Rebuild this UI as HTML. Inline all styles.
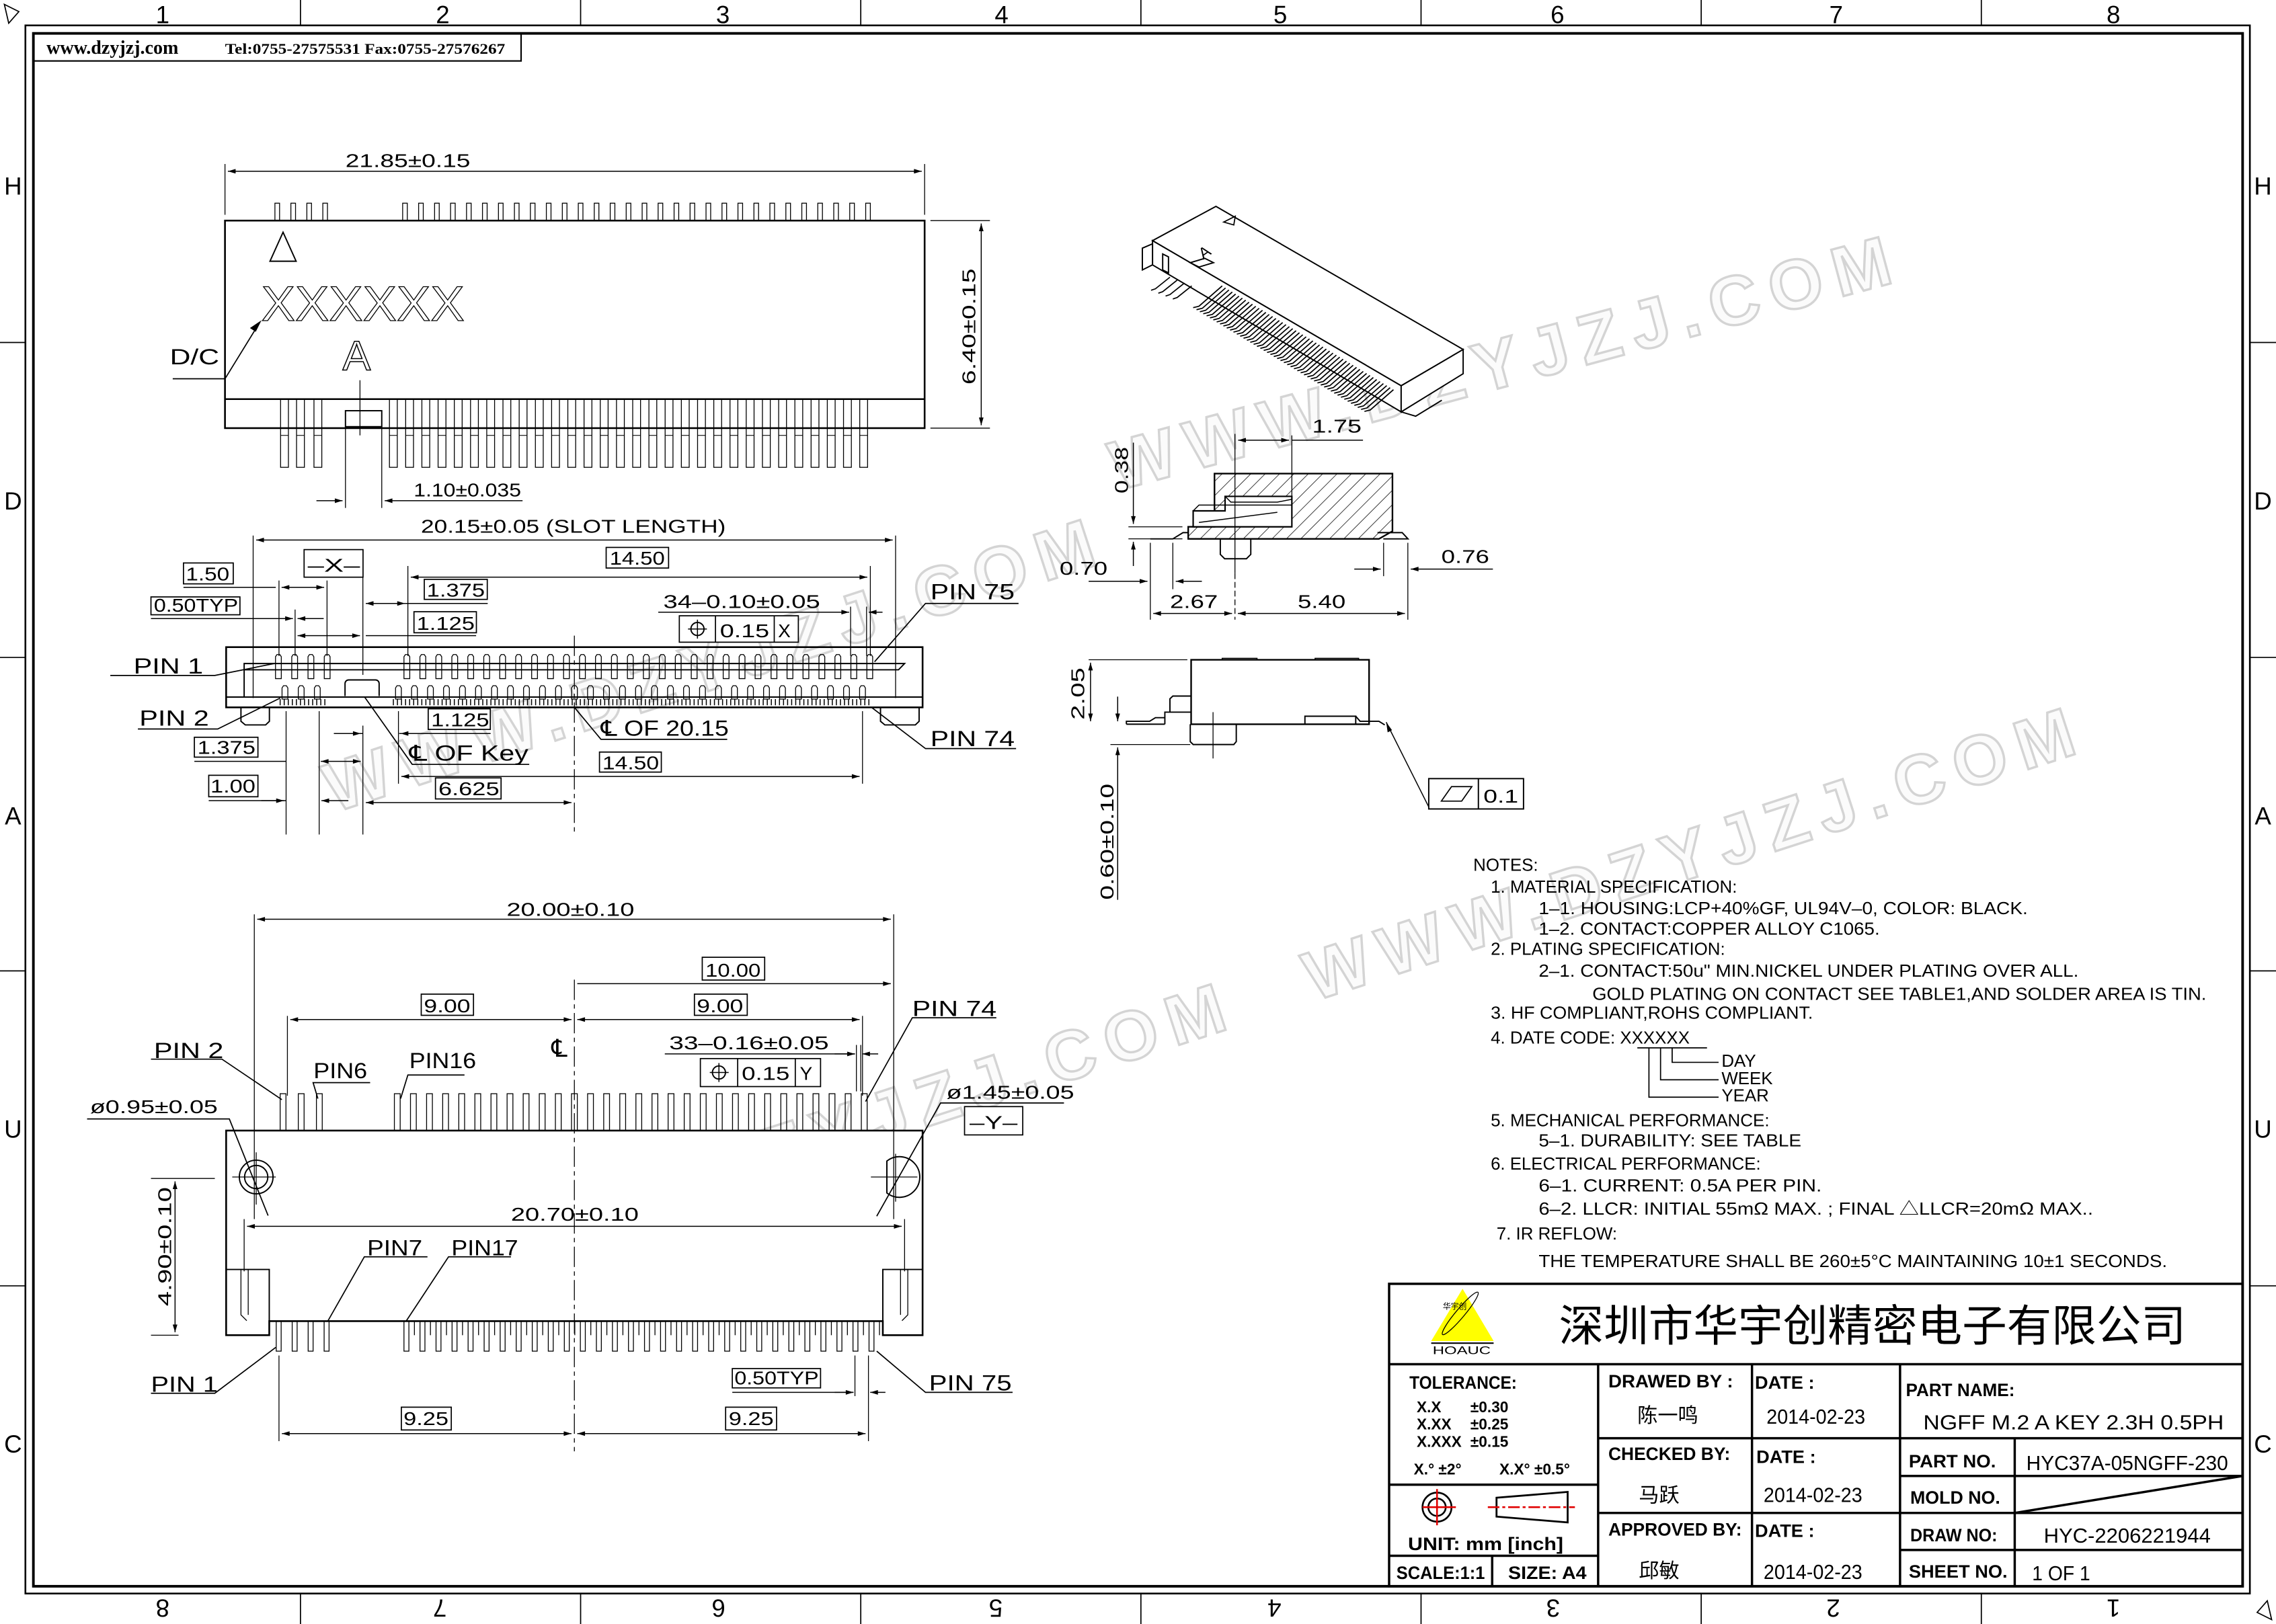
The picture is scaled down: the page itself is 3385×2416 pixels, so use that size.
<!DOCTYPE html>
<html><head><meta charset="utf-8"><style>
html,body{margin:0;padding:0;background:#fff}
svg{display:block}
text{font-family:"Liberation Sans","Noto Sans CJK SC",sans-serif;fill:#000}
.d{font-size:13px}
.l{font-size:15px}
.n{font-size:12px}
.t{font-size:12.5px;font-weight:bold}
.s{font-family:"Liberation Serif","Noto Serif CJK SC",serif;font-size:14px}
.wm{font-size:48px;font-weight:bold;fill:#fbfbfb;stroke:#d4d4d4;stroke-width:1.6;letter-spacing:8px}
.o{fill:none;stroke:#000}
</style></head><body>
<svg id="s" xmlns="http://www.w3.org/2000/svg" width="3385" height="2416" viewBox="0 0 1568 1119" preserveAspectRatio="none">
<defs>
<marker id="a" viewBox="0 0 10 6" refX="10" refY="3" markerWidth="8" markerHeight="3.2" orient="auto-start-reverse" markerUnits="userSpaceOnUse"><path d="M0,0L10,3L0,6z"/></marker>
<pattern id="h" width="7" height="7" patternUnits="userSpaceOnUse" patternTransform="rotate(45)"><line x1="0" y1="0" x2="0" y2="7" stroke="#000" stroke-width="0.7"/></pattern>
</defs>
<rect width="1568" height="1119" fill="#fff"/>
<g>
<text class="wm" x="0" y="0" transform="translate(770,338) rotate(-15)">WWW.DZYJZJ.COM</text>
<text class="wm" x="0" y="0" transform="translate(230,560) rotate(-18)">WWW.DZYJZJ.COM</text>
<text class="wm" x="0" y="0" transform="translate(905,690) rotate(-18)">WWW.DZYJZJ.COM</text>
<text class="wm" x="0" y="0" transform="translate(320,880) rotate(-18)">WWW.DZYJZJ.COM</text>
</g>
<g fill="none" stroke="#000">
<rect x="17.5" y="17.5" width="1532.5" height="1080.5" stroke-width="1.2"/>
<rect x="23" y="23" width="1522" height="1070" stroke-width="1.8"/>
<path d="M207,0V17.5M400,0V17.5M593,0V17.5M786,0V17.5M979,0V17.5M1172,0V17.5M1365,0V17.5M207,1098V1119M400,1098V1119M593,1098V1119M786,1098V1119M979,1098V1119M1172,1098V1119M1365,1098V1119M0,236H17.5M0,453H17.5M0,669H17.5M0,886H17.5M1550,236H1568M1550,453H1568M1550,669H1568M1550,886H1568" stroke-width="0.8"/>
<path d="M3,3L13,8L6,16z M1565,1116L1555,1111L1562,1103z" stroke-width="0.8"/>
<rect x="23" y="23" width="336" height="19" stroke-width="1"/>
</g>
<g font-size="17" text-anchor="middle">
<text x="112" y="16">1</text><text x="305" y="16">2</text><text x="498" y="16">3</text><text x="690" y="16">4</text><text x="882" y="16">5</text><text x="1073" y="16">6</text><text x="1265" y="16">7</text><text x="1456" y="16">8</text>
<g transform="rotate(180 784 1108)"><text x="112" y="1114">1</text><text x="305" y="1114">2</text><text x="498" y="1114">3</text><text x="690" y="1114">4</text><text x="882" y="1114">5</text><text x="1073" y="1114">6</text><text x="1265" y="1114">7</text><text x="1456" y="1114">8</text></g>
<text x="9" y="134">H</text><text x="9" y="351">D</text><text x="9" y="568">A</text><text x="9" y="784">U</text><text x="9" y="1001">C</text>
<text x="1559" y="134">H</text><text x="1559" y="351">D</text><text x="1559" y="568">A</text><text x="1559" y="784">U</text><text x="1559" y="1001">C</text>
</g>
<text x="32" y="37" style="font-family:'Liberation Serif',serif;font-size:13px;font-weight:bold">www.dzyjzj.com</text>
<text x="155" y="37" style="font-family:'Liberation Serif',serif;font-size:10.5px;font-weight:bold" textLength="193" lengthAdjust="spacingAndGlyphs">Tel:0755-27575531  Fax:0755-27576267</text>

<g id="draw" fill="none" stroke="#000" stroke-width="0.9">
<rect x="155" y="152" width="482" height="143" stroke-width="1.2"/>
<line x1="155" y1="275" x2="637" y2="275" stroke-width="1.2"/>
<line x1="155" y1="113" x2="155" y2="148" stroke-width="0.6"/><line x1="637" y1="113" x2="637" y2="148" stroke-width="0.6"/>
<line x1="157" y1="118" x2="635" y2="118" marker-start="url(#a)" marker-end="url(#a)" stroke-width="0.7"/>
<line x1="641" y1="152" x2="682" y2="152" stroke-width="0.6"/><line x1="641" y1="295" x2="682" y2="295" stroke-width="0.6"/>
<line x1="676" y1="154" x2="676" y2="293" marker-start="url(#a)" marker-end="url(#a)" stroke-width="0.7"/>
<path d="M186,180L195,160L204,180z" stroke-width="0.9"/>
<path d="M119,261H155L179,222" stroke-width="0.8"/>
<path d="M179,222l-6,4l3,2z" fill="#000"/>
<rect x="238" y="283" width="25" height="11"/>
<line x1="238" y1="295" x2="238" y2="350" stroke-width="0.6"/><line x1="263" y1="295" x2="263" y2="350" stroke-width="0.6"/>
<line x1="248" y1="262" x2="248" y2="300" stroke-width="0.6"/>
<line x1="218" y1="345" x2="236" y2="345" marker-end="url(#a)" stroke-width="0.7"/><line x1="360" y1="345" x2="265" y2="345" marker-end="url(#a)" stroke-width="0.7"/>
<g id="tvp"></g>

<rect x="155.8" y="445.9" width="479.8" height="41.5" stroke-width="1.2"/>
<line x1="155.8" y1="480.3" x2="635.6" y2="480.3"/>
<path d="M168.2,480.3V457.2H623.2L619,461.5H172.5"/>
<line x1="168.2" y1="461.5" x2="172.5" y2="461.5"/>
<path d="M166,487.4V497l3,2.5h14l2.6-2.5V487.4M606.6,487.4V497l3,2.5h21l2.6-2.5V487.4"/>
<path d="M237.7,479.6V471a2.5,2.5 0 0 1 2.5-2.5h18.5a2.5,2.5 0 0 1 2.5,2.5V479.6"/>
<g id="svp"></g>
<g stroke-width="0.6">
<line x1="174.4" y1="369" x2="174.4" y2="481"/><line x1="617" y1="369" x2="617" y2="481"/>
<line x1="250" y1="398" x2="250" y2="465"/><line x1="250" y1="500" x2="250" y2="575"/>
<line x1="281" y1="390" x2="281" y2="452"/><line x1="599.6" y1="390" x2="599.6" y2="452"/>
<line x1="192.2" y1="400" x2="192.2" y2="452"/><line x1="225.3" y1="400" x2="225.3" y2="452"/><line x1="203.3" y1="420" x2="203.3" y2="452"/>
<line x1="586" y1="418" x2="586" y2="452"/><line x1="597" y1="418" x2="597" y2="452"/>
<line x1="395.7" y1="438" x2="395.7" y2="575" stroke-dasharray="14,3,3,3"/>
<line x1="197.1" y1="490" x2="197.1" y2="575"/><line x1="219.9" y1="490" x2="219.9" y2="575"/>
<line x1="274.5" y1="490" x2="274.5" y2="540"/><line x1="594.2" y1="490" x2="594.2" y2="540"/>
</g>
<g stroke-width="0.7">
<line x1="176.5" y1="372.1" x2="615" y2="372.1" marker-start="url(#a)" marker-end="url(#a)"/>
<line x1="283" y1="397.7" x2="597.5" y2="397.7" marker-start="url(#a)" marker-end="url(#a)"/>
<path d="M126.4,404.7H190"/><line x1="194" y1="404.7" x2="223.3" y2="404.7" marker-start="url(#a)" marker-end="url(#a)"/>
<path d="M104,426.2H190"/><line x1="185" y1="426.2" x2="201.8" y2="426.2" marker-end="url(#a)"/><line x1="223" y1="426.2" x2="205" y2="426.2" marker-end="url(#a)"/>
<line x1="252" y1="415.8" x2="279" y2="415.8" marker-start="url(#a)" marker-end="url(#a)"/><path d="M279,415.8H336"/>
<line x1="205" y1="438" x2="248" y2="438" marker-start="url(#a)" marker-end="url(#a)"/><path d="M252,438H328"/>
<path d="M453.5,421.8H584"/><line x1="570" y1="421.8" x2="585" y2="421.8" marker-end="url(#a)"/><line x1="608" y1="421.8" x2="598.5" y2="421.8" marker-end="url(#a)"/>
<path d="M230,505.4H250M275,505.4H338"/><line x1="236" y1="505.4" x2="248.5" y2="505.4" marker-end="url(#a)"/><line x1="290" y1="505.4" x2="276" y2="505.4" marker-end="url(#a)"/>
<path d="M133.9,524.6H197"/><line x1="221" y1="524.6" x2="248.5" y2="524.6" marker-start="url(#a)" marker-end="url(#a)"/>
<line x1="276.5" y1="535" x2="592.2" y2="535" marker-start="url(#a)" marker-end="url(#a)"/>
<path d="M143.8,551.7H197"/><line x1="180" y1="551.7" x2="195.6" y2="551.7" marker-end="url(#a)"/><line x1="240" y1="551.7" x2="221.4" y2="551.7" marker-end="url(#a)"/>
<line x1="252" y1="553" x2="393.7" y2="553" marker-start="url(#a)" marker-end="url(#a)"/>
</g>
<g fill="#fff" stroke-width="0.8">
<rect x="126.4" y="387.9" width="34.3" height="14.4"/><rect x="104" y="411.3" width="61.3" height="12.3"/>
<rect x="209.5" y="378.7" width="40.6" height="19"/><rect x="417.6" y="377.2" width="43" height="14.2"/>
<rect x="292.3" y="399.2" width="43.4" height="13.8"/><rect x="285.2" y="421.5" width="43" height="14.5"/>
<rect x="468" y="424.3" width="82" height="18.2"/><line x1="492.9" y1="424.3" x2="492.9" y2="442.5"/><line x1="533.4" y1="424.3" x2="533.4" y2="442.5"/>
<rect x="295" y="488.4" width="42.8" height="14.2"/><rect x="133.9" y="508" width="43.8" height="13.7"/>
<rect x="413" y="518.2" width="42.6" height="13.8"/><rect x="143.8" y="534.2" width="33.9" height="14.8"/>
<rect x="300" y="536" width="45.2" height="14.5"/>
</g>
<circle cx="480.5" cy="433.4" r="4.5"/><path d="M480.5,427v13M474,433.4h13" stroke-width="0.7"/>
<g stroke-width="0.8">
<path d="M76,465.4H148L190,457"/><path d="M95,502.3H150L193,481"/>
<path d="M701.7,415.8H637.6L602.5,456"/><path d="M700,515.8H637.6L600.4,487.4"/>
<path d="M501,509.4H414L395.7,487.4"/><path d="M364.6,526.7H284L251,480"/>
</g>

<g stroke-width="0.9">
<path d="M794,165.8L837.7,142.2L1008,240.8L965.3,265.8z" fill="#fff"/>
<path d="M794,165.8L965.3,265.8V283.8L794,182.5z" fill="#fff"/>
<path d="M965.3,265.8L1008,240.8V257.5L965.3,283.8z" fill="#fff"/>
<path d="M787,171L794,168V182.5L787,186z M801,175V186L805,188V177z" fill="#fff"/>
<path d="M820,181l10,-3l6,3l-10,3z" fill="#fff"/>
<path d="M965.3,283.8l10,3l18,-11" />
<path d="M843,153l8,-4l-1,6z" stroke-width="0.8"/>
</g>
<g id="p3d" stroke-width="0.8"></g>

<path d="M836.7,326.3H959.3V366L950,371.3H818.6V363H836.7z" fill="url(#h)" stroke-width="1.1"/>
<path d="M844,342H890V363H822V352H844z" fill="#fff" stroke-width="1"/>
<path d="M844,342L848,346H880L890,344" stroke-width="0.7"/>
<path d="M822,352L826,348H890" stroke-width="0.7"/>
<path d="M826,360L880,353" stroke-width="0.7"/>
<path d="M792.5,371.3H808L815,367H818.6" />
<path d="M949,367H966L970,371.3H953" />
<path d="M840.7,371.3V382l3,3h15l3,-3V371.3" />
<g stroke-width="0.6">
<line x1="850.8" y1="299" x2="850.8" y2="395"/><line x1="850.8" y1="395" x2="850.8" y2="427" stroke-dasharray="4,2"/>
<line x1="890" y1="300" x2="890" y2="342"/>
<line x1="777.4" y1="363" x2="814.6" y2="363"/><line x1="777.4" y1="371.3" x2="814.6" y2="371.3"/>
<line x1="792.5" y1="374" x2="792.5" y2="427"/><line x1="808" y1="374" x2="808" y2="406"/>
<line x1="969.9" y1="374" x2="969.9" y2="427"/><line x1="953.2" y1="374" x2="953.2" y2="397"/>
</g>
<g stroke-width="0.7">
<line x1="853" y1="303.3" x2="888" y2="303.3" marker-start="url(#a)" marker-end="url(#a)"/><path d="M890,303.3H939"/>
<line x1="780.8" y1="305" x2="780.8" y2="361" marker-end="url(#a)"/><line x1="780.8" y1="390" x2="780.8" y2="373.3" marker-end="url(#a)"/>
<path d="M750,400.5H790.5"/><line x1="775" y1="400.5" x2="790.5" y2="400.5" marker-end="url(#a)"/><line x1="828" y1="400.5" x2="810" y2="400.5" marker-end="url(#a)"/>
<line x1="794.5" y1="422.7" x2="848.8" y2="422.7" marker-start="url(#a)" marker-end="url(#a)"/>
<line x1="852.8" y1="422.7" x2="967.9" y2="422.7" marker-start="url(#a)" marker-end="url(#a)"/>
<line x1="933" y1="392.1" x2="951.2" y2="392.1" marker-end="url(#a)"/><line x1="1028.5" y1="392.1" x2="971.9" y2="392.1" marker-end="url(#a)"/>
</g>

<path d="M820.6,454.6H943.2V499H820.6z" fill="#fff" stroke-width="1.1"/>
<path d="M842,454.6V453.6H866V454.6M906,454.6V453.6H936V454.6" stroke-width="0.7"/>
<path d="M802.5,499V490.7H820.6M806,490.7V481.5l2,-1.9H820.6" />
<path d="M776,499V497H792L796,494.5H802.5" />
<path d="M776,499H802.5" />
<path d="M899,499V493.5H934V499" />
<path d="M934,493.5l3,3.5H950l4,2.5" />
<path d="M820,499V511l2,2H850l1.7,-2V499" />
<line x1="835.7" y1="490.7" x2="835.7" y2="522.6" stroke-width="0.6"/>
<g stroke-width="0.6"><line x1="750" y1="454.6" x2="818" y2="454.6"/><line x1="765" y1="513" x2="820" y2="513"/></g>
<g stroke-width="0.7">
<line x1="751.3" y1="456.6" x2="751.3" y2="497" marker-start="url(#a)" marker-end="url(#a)"/>
<line x1="770" y1="480" x2="770" y2="497" marker-end="url(#a)"/><line x1="770" y1="620" x2="770" y2="515" marker-end="url(#a)"/>
<path d="M984.3,556L955,497.6"/>
</g>
<path d="M955,497.6l1,7l3,-1.5z" fill="#000" stroke="none"/>
<rect x="984.3" y="536.5" width="65.3" height="20.9" fill="#fff" stroke-width="0.9"/>
<line x1="1018.5" y1="536.5" x2="1018.5" y2="557.4"/>
<path d="M993,552L1000,542H1014L1007,552z" stroke-width="0.8"/>

<path d="M155.8,779H635.6V920H608.2V910.3H185.5V920H155.8z" fill="#fff" stroke-width="1.2"/>
<path d="M155.8,874.7H185.5V910.3M635.6,874.7H608.2V910.3" />
<path d="M166,874.7V906l4,4 M171,874.7V906M625.4,874.7V906l-4,4M620.4,874.7V906" stroke-width="0.6"/>
<line x1="185.5" y1="910.3" x2="608.2" y2="910.3"/>
<circle cx="176.5" cy="811" r="11.6"/><circle cx="176.5" cy="811" r="8"/>
<path d="M611,800a14,14 0 1 1 0,22z"/><path d="M611,800v22"/>
<g id="bvp"></g>
<g stroke-width="0.6">
<line x1="395.7" y1="675" x2="395.7" y2="1000" stroke-dasharray="14,3,3,3"/>
<line x1="175.2" y1="630" x2="175.2" y2="840"/><line x1="615.7" y1="630" x2="615.7" y2="840"/>
<line x1="198" y1="700" x2="198" y2="755"/><line x1="594.2" y1="700" x2="594.2" y2="755"/>
<line x1="590" y1="720" x2="590" y2="752"/><line x1="593" y1="720" x2="593" y2="752"/>
<line x1="160" y1="811" x2="190" y2="811"/><line x1="176.5" y1="794" x2="176.5" y2="830"/>
<line x1="600" y1="811" x2="632" y2="811"/><line x1="617" y1="795" x2="617" y2="828"/>
<line x1="104" y1="812" x2="148" y2="812"/><line x1="104" y1="920" x2="123" y2="920"/>
<line x1="168.2" y1="840" x2="168.2" y2="876"/><line x1="623.2" y1="840" x2="623.2" y2="876"/>
<line x1="192.2" y1="934" x2="192.2" y2="993"/><line x1="598.3" y1="934" x2="598.3" y2="993"/>
<line x1="589" y1="934" x2="589" y2="962"/>
</g>
<g stroke-width="0.7">
<line x1="177.2" y1="633.4" x2="613.7" y2="633.4" marker-start="url(#a)" marker-end="url(#a)"/>
<line x1="397.7" y1="677.8" x2="613.7" y2="677.8" marker-end="url(#a)"/>
<line x1="200" y1="702.5" x2="393.7" y2="702.5" marker-start="url(#a)" marker-end="url(#a)"/>
<line x1="397.7" y1="702.5" x2="592.2" y2="702.5" marker-start="url(#a)" marker-end="url(#a)"/>
<path d="M458,726.2H589"/><line x1="575" y1="726.2" x2="589" y2="726.2" marker-end="url(#a)"/><line x1="605" y1="726.2" x2="594" y2="726.2" marker-end="url(#a)"/>
<line x1="120.6" y1="814" x2="120.6" y2="918" marker-start="url(#a)" marker-end="url(#a)"/>
<line x1="170.2" y1="845" x2="621.2" y2="845" marker-start="url(#a)" marker-end="url(#a)"/>
<path d="M504.5,959.4H588"/><line x1="575" y1="959.4" x2="588" y2="959.4" marker-end="url(#a)"/><line x1="610" y1="959.4" x2="599.5" y2="959.4" marker-end="url(#a)"/>
<line x1="194.2" y1="987.8" x2="393.7" y2="987.8" marker-start="url(#a)" marker-end="url(#a)"/>
<line x1="397.7" y1="987.8" x2="596.3" y2="987.8" marker-start="url(#a)" marker-end="url(#a)"/>
</g>
<g fill="#fff" stroke-width="0.8">
<rect x="483.8" y="659.6" width="43" height="15.7"/><rect x="290.2" y="685" width="36" height="14.6"/><rect x="478.4" y="685" width="36.4" height="14.6"/>
<rect x="482.5" y="729.4" width="82.8" height="19.3"/><line x1="508.2" y1="729.4" x2="508.2" y2="748.7"/><line x1="547.9" y1="729.4" x2="547.9" y2="748.7"/>
<rect x="664.5" y="762.5" width="40.1" height="19.5"/>
<rect x="504.5" y="943" width="60.8" height="13.3"/>
<rect x="276.5" y="969.6" width="34.4" height="15.7"/><rect x="499.9" y="969.6" width="35.1" height="15.7"/>
</g>
<circle cx="495.3" cy="739" r="4.5"/><path d="M495.3,732.5v13M489,739h13" stroke-width="0.7"/>
<g stroke-width="0.8">
<path d="M104,729.8H152.9L194.2,757.7"/><path d="M255,746H215.7L219,757"/><path d="M320,740.7H281L276,757"/>
<path d="M686.4,701.3H628.5L596.3,759"/><path d="M733,760H648L604,838"/><path d="M60,771H158L184.7,837.6"/>
<path d="M294.5,866H251L226,910"/><path d="M352,866H309L280,910"/>
<path d="M104,960H148L190,928.4"/><path d="M697.6,959.4H637.6L604,931"/>
</g>

<g stroke-width="1.6">
<rect x="957" y="884.6" width="588" height="208.4"/>
<line x1="957" y1="940" x2="1545" y2="940"/>
<line x1="1101" y1="940" x2="1101" y2="1093"/><line x1="1207" y1="940" x2="1207" y2="1093"/><line x1="1309" y1="940" x2="1309" y2="1093"/>
<line x1="1388" y1="991" x2="1388" y2="1093"/>
<line x1="957" y1="1023" x2="1101" y2="1023"/><line x1="957" y1="1072" x2="1101" y2="1072"/><line x1="1028" y1="1072" x2="1028" y2="1093"/>
<line x1="1101" y1="991" x2="1545" y2="991"/><line x1="1101" y1="1042.5" x2="1545" y2="1042.5"/>
<line x1="1309" y1="1017" x2="1545" y2="1017"/><line x1="1309" y1="1068" x2="1545" y2="1068"/>
<line x1="1388" y1="1042.5" x2="1545" y2="1017"/>
</g>
<path d="M1007.6,888L986,924H1029z" fill="#ffff00" stroke="none"/>
<ellipse cx="1006" cy="905" rx="3" ry="19" transform="rotate(40 1006 905)" stroke-width="0.6"/>
<line x1="986" y1="925.5" x2="1029" y2="925.5" stroke-width="1"/>
<circle cx="990" cy="1038.5" r="10" stroke-width="1.2"/><circle cx="990" cy="1038.5" r="6" stroke-width="1.2"/>
<path d="M980,1038.5H1003M990,1026V1051" stroke="#e00000" stroke-width="1.2"/>
<path d="M1031,1032L1080,1028V1049L1031,1045z" stroke-width="1.3"/>
<path d="M1025,1038.5H1085" stroke="#e00000" stroke-width="1.2" stroke-dasharray="8,2,2,2"/>
</g>

<g class="d">
<text x="238" y="115" textLength="86" lengthAdjust="spacingAndGlyphs">21.85±0.15</text>
<text x="0" y="0" transform="translate(672,265) rotate(-90)" textLength="80" lengthAdjust="spacingAndGlyphs">6.40±0.15</text>
<text x="285" y="342" textLength="74" lengthAdjust="spacingAndGlyphs">1.10±0.035</text>
<text x="290" y="367" textLength="210" lengthAdjust="spacingAndGlyphs">20.15±0.05 (SLOT LENGTH)</text>
<text x="420" y="389" textLength="38" lengthAdjust="spacingAndGlyphs">14.50</text>
<text x="212" y="394" textLength="36" lengthAdjust="spacingAndGlyphs">–X–</text>
<text x="128" y="400" textLength="30" lengthAdjust="spacingAndGlyphs">1.50</text>
<text x="106" y="421.5" textLength="58" lengthAdjust="spacingAndGlyphs">0.50TYP</text>
<text x="294" y="411" textLength="40" lengthAdjust="spacingAndGlyphs">1.375</text>
<text x="287" y="434" textLength="40" lengthAdjust="spacingAndGlyphs">1.125</text>
<text x="457" y="419" textLength="108" lengthAdjust="spacingAndGlyphs">34–0.10±0.05</text>
<text x="496" y="439" textLength="34" lengthAdjust="spacingAndGlyphs">0.15</text><text x="536" y="439">X</text>
<text x="297" y="500.5" textLength="40" lengthAdjust="spacingAndGlyphs">1.125</text>
<text x="136" y="519.5" textLength="40" lengthAdjust="spacingAndGlyphs">1.375</text>
<text x="415" y="530" textLength="39" lengthAdjust="spacingAndGlyphs">14.50</text>
<text x="145" y="546" textLength="31" lengthAdjust="spacingAndGlyphs">1.00</text>
<text x="302" y="548" textLength="42" lengthAdjust="spacingAndGlyphs">6.625</text>
<text x="904" y="298" textLength="34" lengthAdjust="spacingAndGlyphs">1.75</text>
<text x="0" y="0" transform="translate(777,340) rotate(-90)" textLength="32" lengthAdjust="spacingAndGlyphs">0.38</text>
<text x="730" y="396" textLength="33" lengthAdjust="spacingAndGlyphs">0.70</text>
<text x="993" y="388" textLength="33" lengthAdjust="spacingAndGlyphs">0.76</text>
<text x="806" y="419" textLength="33" lengthAdjust="spacingAndGlyphs">2.67</text>
<text x="894" y="419" textLength="33" lengthAdjust="spacingAndGlyphs">5.40</text>
<text x="0" y="0" transform="translate(747,496) rotate(-90)" textLength="36" lengthAdjust="spacingAndGlyphs">2.05</text>
<text x="0" y="0" transform="translate(767,620) rotate(-90)" textLength="80" lengthAdjust="spacingAndGlyphs">0.60±0.10</text>
<text x="1022" y="553" textLength="24" lengthAdjust="spacingAndGlyphs">0.1</text>
<text x="349" y="631" textLength="88" lengthAdjust="spacingAndGlyphs">20.00±0.10</text>
<text x="486" y="673" textLength="38" lengthAdjust="spacingAndGlyphs">10.00</text>
<text x="292" y="697.5" textLength="32" lengthAdjust="spacingAndGlyphs">9.00</text>
<text x="480" y="697.5" textLength="32" lengthAdjust="spacingAndGlyphs">9.00</text>
<text x="461" y="723" textLength="110" lengthAdjust="spacingAndGlyphs">33–0.16±0.05</text>
<text x="511" y="744" textLength="33" lengthAdjust="spacingAndGlyphs">0.15</text><text x="551" y="744">Y</text>
<text x="652" y="757" textLength="88" lengthAdjust="spacingAndGlyphs">ø1.45±0.05</text>
<text x="668" y="778" textLength="33" lengthAdjust="spacingAndGlyphs">–Y–</text>
<text x="62" y="767" textLength="88" lengthAdjust="spacingAndGlyphs">ø0.95±0.05</text>
<text x="0" y="0" transform="translate(118,900) rotate(-90)" textLength="82" lengthAdjust="spacingAndGlyphs">4.90±0.10</text>
<text x="352" y="841" textLength="88" lengthAdjust="spacingAndGlyphs">20.70±0.10</text>
<text x="506" y="954" textLength="58" lengthAdjust="spacingAndGlyphs">0.50TYP</text>
<text x="278" y="982" textLength="31" lengthAdjust="spacingAndGlyphs">9.25</text>
<text x="502" y="982" textLength="31" lengthAdjust="spacingAndGlyphs">9.25</text>
</g>
<text x="380" y="728" font-size="17">℄</text>
<g class="l">
<text x="92" y="464" textLength="48" lengthAdjust="spacingAndGlyphs">PIN 1</text>
<text x="96" y="500" textLength="48" lengthAdjust="spacingAndGlyphs">PIN 2</text>
<text x="641" y="413" textLength="58" lengthAdjust="spacingAndGlyphs">PIN 75</text>
<text x="641" y="514" textLength="58" lengthAdjust="spacingAndGlyphs">PIN 74</text>
<text x="414" y="507" textLength="88" lengthAdjust="spacingAndGlyphs">℄ OF 20.15</text>
<text x="282" y="524" textLength="82" lengthAdjust="spacingAndGlyphs">℄ OF Key</text>
<text x="106" y="729" textLength="48" lengthAdjust="spacingAndGlyphs">PIN 2</text>
<text x="216" y="743" textLength="37" lengthAdjust="spacingAndGlyphs">PIN6</text>
<text x="282" y="736" textLength="46" lengthAdjust="spacingAndGlyphs">PIN16</text>
<text x="628.5" y="700" textLength="58" lengthAdjust="spacingAndGlyphs">PIN 74</text>
<text x="253" y="865" textLength="38" lengthAdjust="spacingAndGlyphs">PIN7</text>
<text x="311" y="865" textLength="46" lengthAdjust="spacingAndGlyphs">PIN17</text>
<text x="104" y="959" textLength="46" lengthAdjust="spacingAndGlyphs">PIN 1</text>
<text x="640" y="958" textLength="57" lengthAdjust="spacingAndGlyphs">PIN 75</text>
<text x="117" y="251" textLength="34" lengthAdjust="spacingAndGlyphs">D/C</text>
</g>
<text class="o" x="180" y="221" font-size="34" style="fill:none;stroke:#000;stroke-width:0.6" textLength="140" lengthAdjust="spacingAndGlyphs">XXXXXX</text>
<text class="o" x="236" y="255" font-size="29" style="fill:none;stroke:#000;stroke-width:0.7">A</text>
<text x="0" y="0" transform="translate(829,179) rotate(-35)" font-size="11">A</text>

<g class="n">
<text x="1015" y="600">NOTES:</text>
<text x="1027" y="615">1. MATERIAL SPECIFICATION:</text>
<text x="1060" y="630" textLength="337" lengthAdjust="spacingAndGlyphs">1–1. HOUSING:LCP+40%GF, UL94V–0, COLOR: BLACK.</text>
<text x="1060" y="644" textLength="235" lengthAdjust="spacingAndGlyphs">1–2. CONTACT:COPPER ALLOY C1065.</text>
<text x="1027" y="658">2. PLATING SPECIFICATION:</text>
<text x="1060" y="673" textLength="372" lengthAdjust="spacingAndGlyphs">2–1. CONTACT:50u" MIN.NICKEL UNDER PLATING OVER ALL.</text>
<text x="1097" y="689" textLength="423" lengthAdjust="spacingAndGlyphs">GOLD PLATING ON CONTACT SEE TABLE1,AND SOLDER AREA IS TIN.</text>
<text x="1027" y="702" textLength="222" lengthAdjust="spacingAndGlyphs">3. HF COMPLIANT,ROHS COMPLIANT.</text>
<text x="1027" y="719">4. DATE CODE: XXXXXX</text>
<text x="1186" y="735">DAY</text><text x="1186" y="747">WEEK</text><text x="1186" y="759">YEAR</text>
<text x="1027" y="776" textLength="192" lengthAdjust="spacingAndGlyphs">5. MECHANICAL PERFORMANCE:</text>
<text x="1060" y="790" textLength="181" lengthAdjust="spacingAndGlyphs">5–1. DURABILITY: SEE TABLE</text>
<text x="1027" y="806" textLength="186" lengthAdjust="spacingAndGlyphs">6. ELECTRICAL PERFORMANCE:</text>
<text x="1060" y="821" textLength="195" lengthAdjust="spacingAndGlyphs">6–1. CURRENT: 0.5A PER PIN.</text>
<text x="1060" y="837" textLength="382" lengthAdjust="spacingAndGlyphs">6–2. LLCR: INITIAL 55mΩ MAX. ; FINAL △LLCR=20mΩ MAX..</text>
<text x="1031" y="854">7. IR REFLOW:</text>
<text x="1060" y="873" textLength="433" lengthAdjust="spacingAndGlyphs">THE TEMPERATURE SHALL BE 260±5°C MAINTAINING 10±1 SECONDS.</text>
</g>
<path d="M1128,722H1176M1136,722V756H1184M1144,722V744H1184M1152,722V732H1184" fill="none" stroke="#000" stroke-width="0.8"/>

<text x="1074" y="924" font-size="30" style="font-family:'Noto Sans CJK SC',sans-serif" textLength="432" lengthAdjust="spacingAndGlyphs">深圳市华宇创精密电子有限公司</text>
<text x="994" y="902" font-size="5.5" style="font-family:'Noto Sans CJK SC',sans-serif">华宇创</text>
<text x="987" y="933" font-size="7.5" textLength="40" lengthAdjust="spacingAndGlyphs">HOAUC</text>
<g class="t">
<text x="971" y="957" textLength="74" lengthAdjust="spacingAndGlyphs">TOLERANCE:</text>
<text x="976" y="973" font-size="10.5">X.X</text><text x="1013" y="973" font-size="10.5">±0.30</text>
<text x="976" y="985" font-size="10.5">X.XX</text><text x="1013" y="985" font-size="10.5">±0.25</text>
<text x="976" y="997" font-size="10.5">X.XXX</text><text x="1013" y="997" font-size="10.5">±0.15</text>
<text x="974" y="1016" font-size="10.5">X.° ±2°</text><text x="1033" y="1016" font-size="10.5">X.X° ±0.5°</text>
<text x="970" y="1068" textLength="107" lengthAdjust="spacingAndGlyphs">UNIT:  mm  [inch]</text>
<text x="962" y="1088" textLength="61" lengthAdjust="spacingAndGlyphs">SCALE:1:1</text>
<text x="1039" y="1088" textLength="54" lengthAdjust="spacingAndGlyphs">SIZE:  A4</text>
<text x="1108" y="956" textLength="86" lengthAdjust="spacingAndGlyphs">DRAWED  BY :</text>
<text x="1209" y="957" textLength="41" lengthAdjust="spacingAndGlyphs">DATE  :</text>
<text x="1108" y="1006" textLength="84" lengthAdjust="spacingAndGlyphs">CHECKED  BY:</text>
<text x="1210" y="1008" textLength="41" lengthAdjust="spacingAndGlyphs">DATE  :</text>
<text x="1108" y="1058" textLength="92" lengthAdjust="spacingAndGlyphs">APPROVED  BY:</text>
<text x="1209" y="1059" textLength="41" lengthAdjust="spacingAndGlyphs">DATE  :</text>
<text x="1313" y="962" textLength="75" lengthAdjust="spacingAndGlyphs">PART  NAME:</text>
<text x="1315" y="1011" textLength="60" lengthAdjust="spacingAndGlyphs">PART  NO.</text>
<text x="1316" y="1036" textLength="62" lengthAdjust="spacingAndGlyphs">MOLD  NO.</text>
<text x="1316" y="1062" textLength="60" lengthAdjust="spacingAndGlyphs">DRAW  NO:</text>
<text x="1315" y="1087" textLength="68" lengthAdjust="spacingAndGlyphs">SHEET  NO.</text>
</g>
<g class="s">
<text x="1128" y="980" fill="#333">陈一鸣</text>
<text x="1129" y="1035" fill="#333">马跃</text>
<text x="1129" y="1087" fill="#333">邱敏</text>
<text x="1217" y="981" textLength="68" lengthAdjust="spacingAndGlyphs">2014-02-23</text>
<text x="1215" y="1035" textLength="68" lengthAdjust="spacingAndGlyphs">2014-02-23</text>
<text x="1215" y="1088" textLength="68" lengthAdjust="spacingAndGlyphs">2014-02-23</text>
<text x="1325" y="985" textLength="207" lengthAdjust="spacingAndGlyphs">NGFF M.2 A KEY 2.3H 0.5PH</text>
<text x="1396" y="1013" textLength="139" lengthAdjust="spacingAndGlyphs">HYC37A-05NGFF-230</text>
<text x="1408" y="1063" textLength="115" lengthAdjust="spacingAndGlyphs">HYC-2206221944</text>
<text x="1400" y="1089" textLength="40" lengthAdjust="spacingAndGlyphs">1 OF 1</text>
</g>
</svg>
<script>
(function(){
var NS="http://www.w3.org/2000/svg";
function el(p,t,a){var e=document.createElementNS(NS,t);for(var k in a)e.setAttribute(k,a[k]);p.appendChild(e);return e;}
function xs(a,b,n){var r=[];for(var i=0;i<n;i++)r.push(a+(b-a)*i/(n-1));return r;}
var g=document.getElementById("tvp");
var top=[191,202,213,224].concat(xs(279,598,30));
top.forEach(function(x){el(g,"rect",{x:x-1.6,y:140,width:3.2,height:12,"stroke-width":0.6});});
var bot=[196,207,219].concat(xs(271,595,30));
bot.forEach(function(x){el(g,"rect",{x:x-2.7,y:275,width:5.4,height:47,"stroke-width":0.6});el(g,"line",{x1:x-2.7,y1:300,x2:x+2.7,y2:300,"stroke-width":0.5});});
g=document.getElementById("svp");
var st=[191.8,203,214.2,225.4].concat(xs(280.3,599.2,30));
st.forEach(function(x){el(g,"path",{d:"M"+(x-2)+",467.6V452.5l1,-1.5h2l1,1.5V467.6z","stroke-width":0.6});});
var sb=[196.3,207.5,218.6].concat(xs(274.5,594.2,30));
sb.forEach(function(x){el(g,"path",{d:"M"+(x-2)+",481.7V474l1,-1.5h2l1,1.5V481.7z","stroke-width":0.6});});
var sd=[];for(var x=193;x<226;x+=2.8)sd.push(x);for(var x=271;x<599;x+=2.8)sd.push(x);
sd.forEach(function(x){el(g,"line",{x1:x,y1:481.7,x2:x,y2:486,"stroke-width":0.7});});
g=document.getElementById("bvp");
var bt=[195,207.5,220].concat(xs(273.7,595.4,30));
bt.forEach(function(x){el(g,"rect",{x:x-2,y:753.6,width:4,height:25.4,"stroke-width":0.6});});
var bb=[192,203,214,225].concat(xs(280,600.4,30));
bb.forEach(function(x){el(g,"rect",{x:x-1.7,y:910.3,width:3.4,height:20.7,"stroke-width":0.6});});
xs(280,600.4,30).forEach(function(x){el(g,"line",{x1:x+5.5,y1:910.3,x2:x+5.5,y2:920,"stroke-width":0.6});});
g=document.getElementById("p3d");
var n=52;for(var i=0;i<n;i++){var t=i/(n-1);var x=842+(960-842)*t,y=197+(268.5-197)*t;
el(g,"path",{d:"M"+x+","+y+"l-16,14l-4,1",stroke:"#000",fill:"none","stroke-width":0.8});}
for(var i=0;i<4;i++){var x=806+i*5,y=191+i*2;el(g,"path",{d:"M"+x+","+y+"l-10,8l-3,1",stroke:"#000",fill:"none","stroke-width":0.8});}
})();
</script>
</body></html>
